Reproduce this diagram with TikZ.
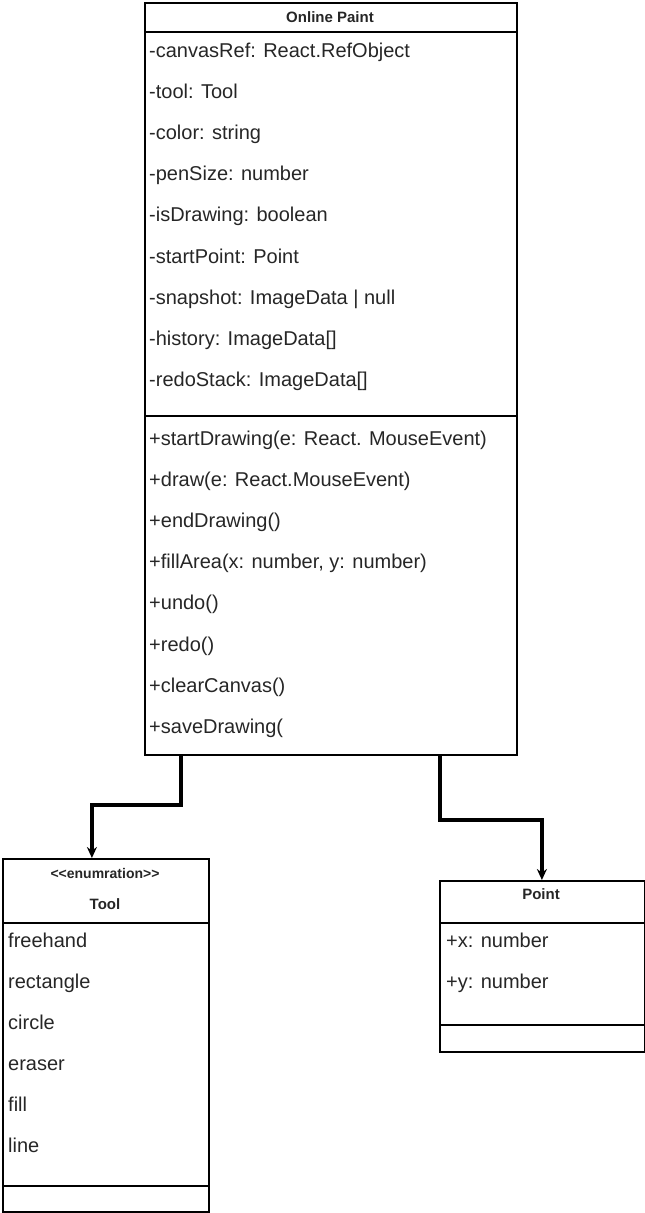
\documentclass[tikz,border=0pt]{standalone}
\usepackage{fontspec}
\setmainfont{Liberation Sans}
\usetikzlibrary{arrows.meta}
\definecolor{txt}{HTML}{262626}
\begin{document}
\begin{tikzpicture}[x=1pt,y=-1pt,
  box/.style={draw=black,line width=1.8pt,anchor=north west,inner sep=0pt},
  sep/.style={draw=black,line width=1.5pt},
  attr/.style={anchor=base west,inner sep=0pt,text=txt,font=\fontsize{20}{24}\selectfont},
  ttl/.style={anchor=base,inner sep=0pt,text=txt,font=\fontsize{15}{18}\selectfont\bfseries},
  conn/.style={draw=black,line width=3.6pt,-{Stealth[length=11pt,width=10pt]}}]
\useasboundingbox (0,0) rectangle (645,1213);
% main class
\node[box,minimum width=372pt,minimum height=752pt] (main) at (144,2) {};
\node[ttl] (mt) at (330,22) {Online Paint};
\draw[sep] (144,32) coordinate (m1) -- (516,32) coordinate (m2);
\draw[sep] (144,416) coordinate (m3) -- (516,416) coordinate (m4);
\foreach \t [count=\i] in {-canvasRef: React.RefObject,-tool: Tool,-color: string,-penSize: number,-isDrawing: boolean,-startPoint: Point,-snapshot: ImageData | null,-history: ImageData[],-redoStack: ImageData[]}
  \node[attr] (ma\i) at (149,{57+41.2*(\i-1)}) {\t};
\foreach \t [count=\i] in {+startDrawing(e: React. MouseEvent),+draw(e: React.MouseEvent),+endDrawing(),{+fillArea(x: number, y: number)},+undo(),+redo(),+clearCanvas(),+saveDrawing(}
  \node[attr] (mm\i) at (149,{445+41.2*(\i-1)}) {\t};
% Tool enumeration
\node[box,minimum width=206pt,minimum height=353pt] (tool) at (2,858) {};
\node[ttl,font=\fontsize{14}{17}\selectfont\bfseries] (tst) at (105,878) {<{}<enumration>{}>};
\node[ttl] (tt) at (105,909) {Tool};
\draw[sep] (2,923) -- (208,923);
\draw[sep] (2,1186) -- (208,1186);
\foreach \t [count=\i] in {freehand,rectangle,circle,eraser,fill,line}
  \node[attr] (ta\i) at (8,{947+41*(\i-1)}) {\t};
% Point
\node[box,minimum width=205pt,minimum height=171pt] (point) at (439,880) {};
\node[ttl] (pt) at (541,899) {Point};
\draw[sep] (439,923) -- (644,923);
\draw[sep] (439,1025) -- (644,1025);
\node[attr] (px) at (446,947) {+x: number};
\node[attr] (py) at (446,988) {+y: number};
% connectors
\draw[conn] ([xshift=37pt]main.south west) -- ++(0,49) -| ([xshift=-14pt]tool.north);
\draw[conn] ([xshift=296pt]main.south west) -- ++(0,64) -| ([xshift=-0.5pt]point.north);
\end{tikzpicture}
\end{document}
